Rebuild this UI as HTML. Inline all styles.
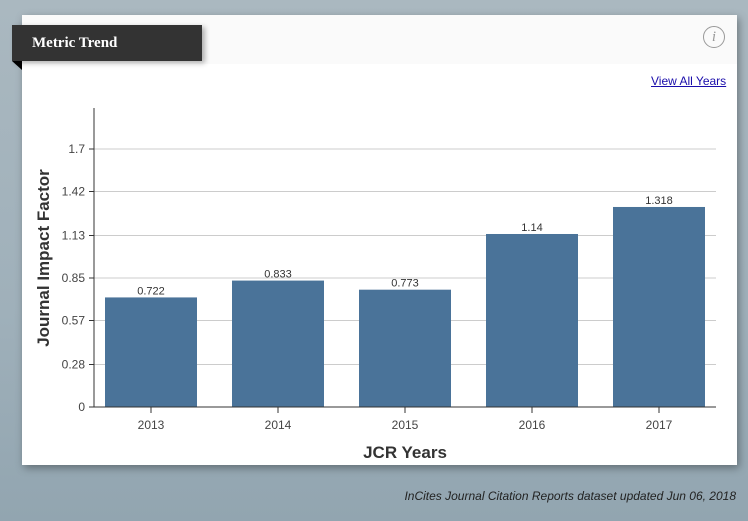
<!DOCTYPE html>
<html><head><meta charset="utf-8"><style>
body{margin:0;width:748px;height:521px;overflow:hidden;background:linear-gradient(180deg,#aab8c0 0%,#9fb0ba 60%,#92a5b0 100%);font-family:"Liberation Sans",sans-serif;position:relative}
#card{position:absolute;left:22px;top:15px;width:715px;height:450px;background:#fff;box-shadow:2px 3px 8px rgba(0,0,0,.35)}
#hdr{position:absolute;left:0;top:0;width:715px;height:49px;background:#fafafa}
#tab{position:absolute;left:12px;top:25px;width:190px;height:36px;background:#333;color:#fff;font-family:"Liberation Serif",serif;font-weight:bold;font-size:15px;line-height:36px;box-sizing:border-box;padding-left:20px;box-shadow:3px 2px 5px rgba(0,0,0,.3)}
#fold{position:absolute;left:12px;top:61px;width:0;height:0;border-top:9px solid #000;border-left:10px solid transparent}
#info{position:absolute;left:703px;top:26px;width:20px;height:20px;border:1.5px solid #999;border-radius:50%;color:#999;font-family:"Liberation Serif",serif;font-style:italic;font-size:15px;text-align:center;line-height:20px}
#view{position:absolute;left:651px;top:74px;font-size:12px;color:#1a0dab;text-decoration:underline}
#foot{position:absolute;right:12px;top:489px;font-size:12px;font-style:italic;color:#222}
svg{position:absolute;left:0;top:0}
</style></head><body>
<div id="card"><div id="hdr"></div></div>
<div id="tab">Metric Trend</div>
<div id="fold"></div>
<div id="info">i</div>
<a id="view">View All Years</a>
<svg id="chart" width="748" height="521"></svg>
<div id="foot">InCites Journal Citation Reports dataset updated Jun 06, 2018</div>
<script>
const years=["2013","2014","2015","2016","2017"];
const values=[0.722,0.833,0.773,1.14,1.318];
const ticks=[0,0.28,0.57,0.85,1.13,1.42,1.7];
const NS="http://www.w3.org/2000/svg",svg=document.getElementById('chart');
const y0=407,k=(407-149)/1.7;
const y=v=>y0-v*k;
const xc=i=>151+127*i;
function mk(t,a,p){const e=document.createElementNS(NS,t);for(const q in a)e.setAttribute(q,a[q]);(p||svg).appendChild(e);return e;}
ticks.forEach(t=>{
 if(t>0){const g=mk('line',{x1:94,x2:716,y1:y(t),y2:y(t),stroke:'#ccc','stroke-width':1});}
 mk('line',{x1:89,x2:94,y1:y(t),y2:y(t),stroke:'#333'});
 const l=mk('text',{x:85,y:y(t)+4,'text-anchor':'end','font-size':12,fill:'#444'});l.textContent=t;
 
});
values.forEach((v,i)=>{
 const b=mk('rect',{x:xc(i)-46,y:y(v),width:92,height:y0-y(v),fill:'#4a7399'});
 
 const t=mk('text',{x:xc(i),y:y(v)-3,'text-anchor':'middle','font-size':11,fill:'#333'});t.textContent=v;
 
 mk('line',{x1:xc(i),x2:xc(i),y1:y0,y2:y0+6,stroke:'#333'});
 const xl=mk('text',{x:xc(i),y:y0+22,'text-anchor':'middle','font-size':12,fill:'#444'});xl.textContent=years[i];
 
});
const ya=mk('line',{x1:94,x2:94,y1:108,y2:407,stroke:'#333'});
const xa=mk('line',{x1:94,x2:716,y1:407,y2:407,stroke:'#333'});
const xt=mk('text',{x:405,y:458,'text-anchor':'middle','font-size':17,'font-weight':'bold',fill:'#333'});xt.textContent='JCR Years';

const yt=mk('text',{x:0,y:0,'text-anchor':'middle','font-size':17,'font-weight':'bold',fill:'#333',transform:'translate(49,258) rotate(-90)'});yt.textContent='Journal Impact Factor';

</script>
</body></html>
